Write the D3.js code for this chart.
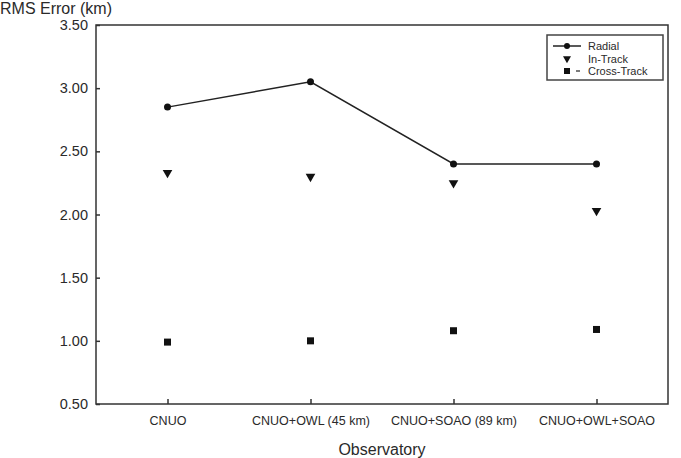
<!DOCTYPE html>
<html>
<head>
<meta charset="utf-8">
<script src="https://cdn.jsdelivr.net/npm/d3@7"></script>
<style>
  body { margin: 0; background: #fff; }
  svg text { font-family: "Liberation Sans", Arial, sans-serif; fill: #2a2a2a; }
</style>
</head>
<body>
<svg id="chart"></svg>
<script>
'use strict';

const categories = ['CNUO', 'CNUO+OWL (45 km)', 'CNUO+SOAO (89 km)', 'CNUO+OWL+SOAO'];
const radial = [2.85, 3.05, 2.40, 2.40];
const inTrack = [2.33, 2.30, 2.25, 2.03];
const crossTrack = [0.99, 1.00, 1.08, 1.09];
const yTicks = [0.5, 1.0, 1.5, 2.0, 2.5, 3.0, 3.5];
const legendNames = ['Radial', 'In-Track', 'Cross-Track'];

const width = 681, height = 458;
const plotL = 96, plotR = 668, plotT = 25, plotB = 404;

const svg = d3.select('#chart').attr('width', width).attr('height', height);

const x = d3.scalePoint().domain(categories).range([plotL, plotR]).padding(0.5);
const y = d3.scaleLinear().domain([0.5, 3.5]).range([plotB, plotT]);

// frame
svg.append('rect')
    .attr('x', plotL).attr('y', plotT)
    .attr('width', plotR - plotL).attr('height', plotB - plotT)
    .attr('fill', 'none').attr('stroke', '#333').attr('stroke-width', 1.5);

// y axis, ticks inward
const yAxis = svg.append('g')
    .attr('transform', 'translate(' + plotL + ',0)')
    .call(d3.axisLeft(y).tickValues(yTicks).tickFormat(d3.format('.2f'))
        .tickSizeInner(-4).tickSizeOuter(0).tickPadding(8));
yAxis.select('.domain').remove();
yAxis.selectAll('line').attr('stroke', '#333').attr('stroke-width', 1.5);
yAxis.selectAll('text').style('font-size', '14.5px').attr('fill', '#2a2a2a')
    .style('font-family', '"Liberation Sans", Arial, sans-serif');

// x axis, ticks inward
const xAxis = svg.append('g')
    .attr('transform', 'translate(0,' + plotB + ')')
    .call(d3.axisBottom(x).tickSizeInner(-5).tickSizeOuter(0).tickPadding(12));
xAxis.select('.domain').remove();
xAxis.selectAll('line').attr('stroke', '#333').attr('stroke-width', 1.5);
xAxis.selectAll('text').style('font-size', '12.5px').attr('fill', '#2a2a2a')
    .style('font-family', '"Liberation Sans", Arial, sans-serif');

// axis titles
svg.append('text').attr('x', 0).attr('y', 14)
    .style('font-size', '16px').text('RMS Error (km)');
svg.append('text').attr('x', x(categories[1]) + 71.5).attr('y', 455)
    .attr('text-anchor', 'middle').style('font-size', '16px').text('Observatory');

// radial line + dots
svg.append('path')
    .datum(radial)
    .attr('fill', 'none').attr('stroke', '#222').attr('stroke-width', 1.5)
    .attr('d', d3.line().x((d, i) => x(categories[i])).y(d => y(d)));
svg.selectAll('.radial-dot').data(radial).enter().append('circle')
    .attr('class', 'radial-dot')
    .attr('cx', (d, i) => x(categories[i])).attr('cy', d => y(d))
    .attr('r', 3.5).attr('fill', '#111');

// in-track triangles
const tri = d3.symbol().type(d3.symbolTriangle).size(40);
svg.selectAll('.in-track').data(inTrack).enter().append('path')
    .attr('class', 'in-track')
    .attr('d', tri)
    .attr('transform', (d, i) => 'translate(' + x(categories[i]) + ',' + y(d) + ') rotate(180)')
    .attr('fill', '#111');

// cross-track squares
svg.selectAll('.cross-track').data(crossTrack).enter().append('rect')
    .attr('class', 'cross-track')
    .attr('x', (d, i) => x(categories[i]) - 3.5).attr('y', d => y(d) - 3.5)
    .attr('width', 7).attr('height', 7).attr('fill', '#111');

// legend
const lg = svg.append('g').attr('transform', 'translate(547,35)');
lg.append('rect').attr('width', 116).attr('height', 45)
    .attr('fill', '#fff').attr('stroke', '#444').attr('stroke-width', 1.5);
const rowY = [11, 23.5, 36];
lg.append('line').attr('x1', 6).attr('x2', 34).attr('y1', rowY[0]).attr('y2', rowY[0])
    .attr('stroke', '#222').attr('stroke-width', 1.5);
lg.append('circle').attr('cx', 20).attr('cy', rowY[0]).attr('r', 3).attr('fill', '#111');
lg.append('path').attr('d', d3.symbol().type(d3.symbolTriangle).size(28))
    .attr('transform', 'translate(20,' + rowY[1] + ') rotate(180)').attr('fill', '#111');
lg.append('rect').attr('x', 17).attr('y', rowY[2] - 3).attr('width', 6).attr('height', 6)
    .attr('fill', '#111');
lg.append('line').attr('x1', 29).attr('x2', 33).attr('y1', rowY[2]).attr('y2', rowY[2])
    .attr('stroke', '#222').attr('stroke-width', 1.2);
lg.selectAll('.lg-text').data(legendNames).enter().append('text')
    .attr('class', 'lg-text')
    .attr('x', 41).attr('y', (d, i) => rowY[i] + 4)
    .style('font-size', '11px').text(d => d);
</script>
</body>
</html>
